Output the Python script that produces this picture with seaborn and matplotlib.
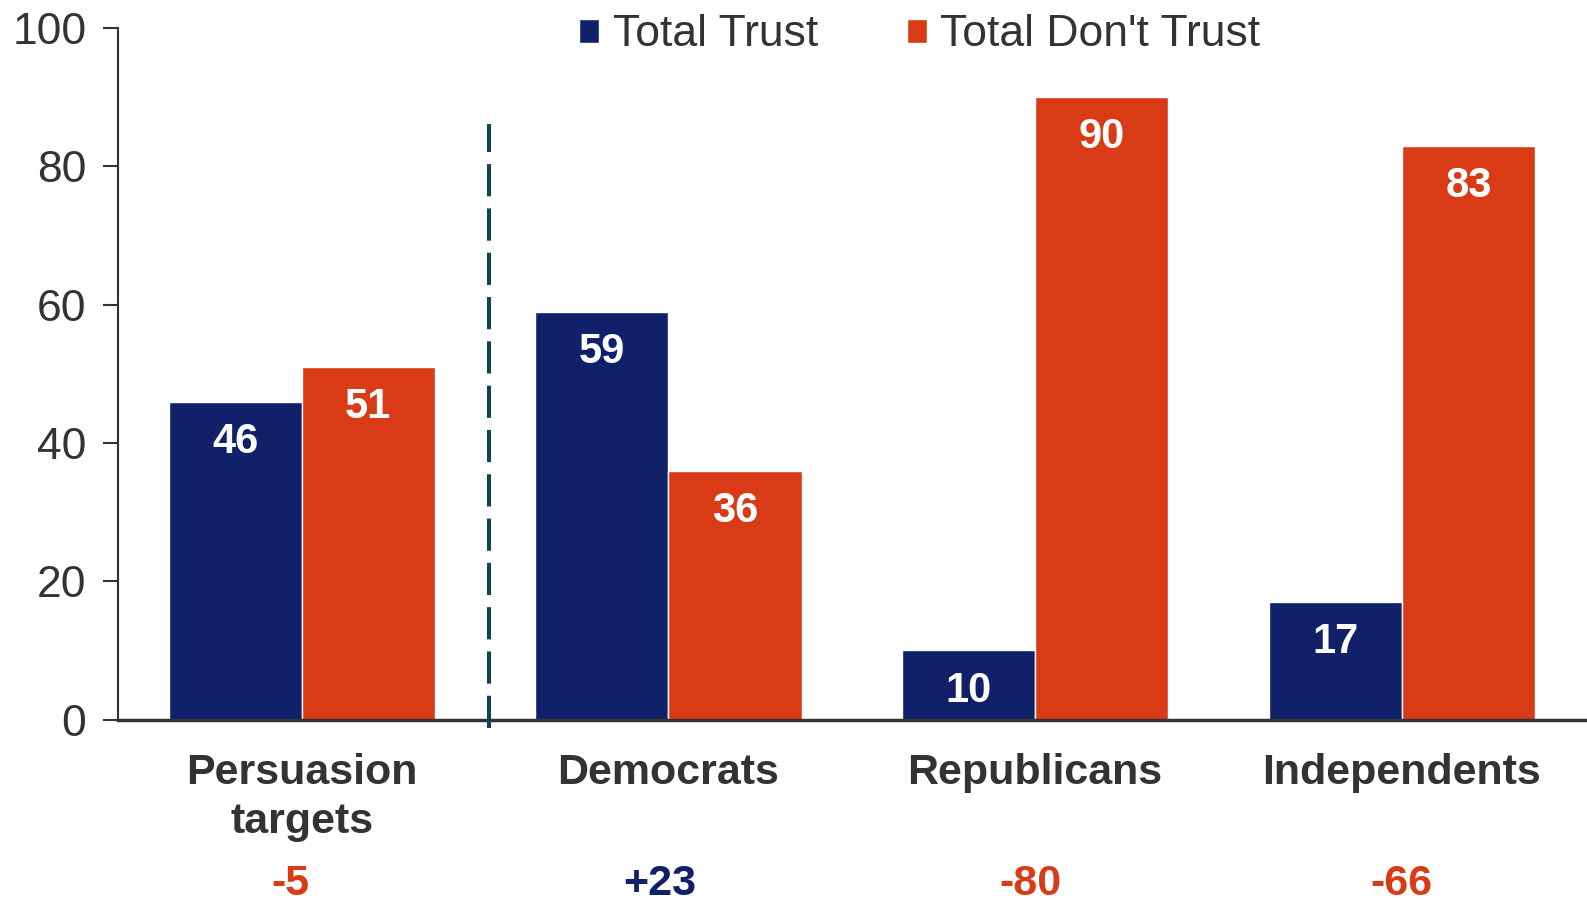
import numpy as np
import pandas as pd
import seaborn as sns
import matplotlib.pyplot as plt
import matplotlib.transforms as mtransforms
from matplotlib.patches import Patch

# data
groups = ["Persuasion\ntargets", "Democrats", "Republicans", "Independents"]
series = ["Total Trust", "Total Don't Trust"]
trust = [46, 59, 10, 17]
dont_trust = [51, 36, 90, 83]
net_labels = ["-5", "+23", "-80", "-66"]

NAVY = "#10216A"
RED = "#D83B16"
GREY = "#333333"
net_colors = [RED, NAVY, RED, RED]
# small horizontal nudges of the net row (layout only)
net_nudge = [-0.03, -0.025, -0.012, 0.0]

sns.set_theme(style="white")
plt.rcParams["font.family"] = ["Liberation Sans", "DejaVu Sans"]

df = pd.DataFrame({
    "group": groups * 2,
    "series": [series[0]] * 4 + [series[1]] * 4,
    "value": trust + dont_trust,
})

fig = plt.figure(figsize=(15.87, 9.08), dpi=100)
ax = fig.add_axes([0.0746, 0.2075, 0.9254, 0.7615])

sns.barplot(data=df, x="group", y="value", hue="series", order=groups,
            hue_order=series, palette=[NAVY, RED], width=0.726, gap=0,
            saturation=1, ax=ax, legend=False)

# value labels inside bars
for cont in ax.containers:
    for bar in cont:
        h = bar.get_height()
        ax.text(bar.get_x() + bar.get_width() / 2, h - 5.8, f"{h:.0f}",
                ha="center", va="center", color="white", fontsize=30,
                fontweight="bold")

# dashed separator
ax.plot([0.51, 0.51], [-1.2, 86.2], ls=(0, (8, 3)), color="#0E4552", lw=2.9,
        clip_on=False, zorder=3)

ax.set_ylim(0, 100)
ax.set_xlim(-0.5, 3.505)
ax.set_yticks([0, 20, 40, 60, 80, 100])
ax.set_xlabel("")
ax.set_ylabel("")
ax.tick_params(axis="y", labelsize=32, labelcolor=GREY, color=GREY,
               length=11, width=1.5, left=True, pad=12)
ax.tick_params(axis="x", length=0, pad=24)
ax.set_xticks(range(len(groups)))
ax.set_xticklabels(groups, fontsize=31, fontweight="bold", color=GREY,
                   linespacing=1.3)

for s in ["top", "right"]:
    ax.spines[s].set_visible(False)
ax.spines["left"].set_color(GREY)
ax.spines["left"].set_linewidth(1.5)
ax.spines["bottom"].set_color(GREY)
ax.spines["bottom"].set_linewidth(2.5)

# net difference row
trans = mtransforms.blended_transform_factory(ax.transData, fig.transFigure)
for i, (lab, c) in enumerate(zip(net_labels, net_colors)):
    ax.text(i + net_nudge[i], 1 - 884 / 908, lab, transform=trans,
            ha="center", va="center", fontsize=31, fontweight="bold", color=c)

handles = [Patch(facecolor=NAVY), Patch(facecolor=RED)]
fig.legend(handles, series, loc="center", bbox_to_anchor=(0.5795, 1 - 35 / 908),
           ncol=2, frameon=False, fontsize=32, handlelength=0.45,
           handleheight=0.45, handletextpad=0.3, columnspacing=2.0,
           labelcolor=GREY)

fig.savefig("out.png", dpi=100)
